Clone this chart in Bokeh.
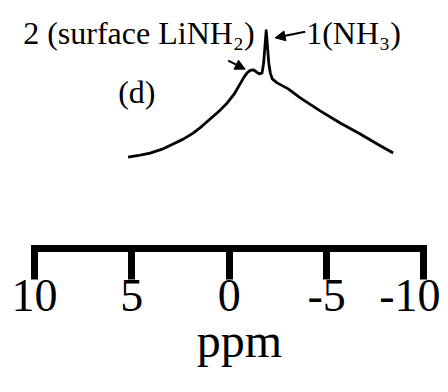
from bokeh.plotting import figure
from bokeh.models import Range1d, FixedTicker, Label, Arrow, NormalHead
from bokeh.embed import file_html
from bokeh.resources import INLINE

# Spectrum (d): chemical shift (ppm) and relative intensity
ppm = [5.19, 4.57, 4.06, 3.44, 2.88, 2.36, 1.85, 1.39, 0.98, 0.51, 0.10, -0.26,
       -0.56, -0.77, -0.92, -1.08, -1.23, -1.39, -1.54, -1.69, -1.77, -1.85,
       -1.90, -1.95, -2.03, -2.11, -2.21, -2.46, -3.03, -3.65, -4.67, -5.70,
       -6.73, -7.60, -8.42]
intensity = [0.031, 0.046, 0.062, 0.092, 0.131, 0.169, 0.215, 0.269, 0.323,
             0.385, 0.446, 0.515, 0.592, 0.646, 0.677, 0.696, 0.700, 0.685,
             0.669, 0.677, 0.754, 0.908, 1.000, 0.908, 0.754, 0.677, 0.631,
             0.600, 0.554, 0.485, 0.385, 0.292, 0.208, 0.131, 0.062]

tick_values = [10, 5, 0, -5, -10]
tick_labels = ["10", "5", "0", "-5", "-10"]

axis_title = "\u2002\u200appm"
panel_label = "(d)"
peak2_label = "2 (surface LiNH\u2082)"
peak1_label = "1(NH\u2083)"

SERIF = "Liberation Serif"

p = figure(width=440, height=388, output_backend="svg", toolbar_location=None,
           x_range=Range1d(11.23, -10.85), y_range=Range1d(-0.669, 1.231),
           y_axis_location=None, min_border_left=10, min_border_right=0,
           min_border_top=0, min_border_bottom=140)
p.outline_line_color = None
p.xgrid.visible = False
p.ygrid.visible = False
p.background_fill_color = "white"
p.border_fill_color = "white"

p.line(ppm, intensity, line_color="black", line_width=2.8, line_join="round")

ax = p.xaxis[0]
ax.bounds = (-10, 10)
ax.ticker = FixedTicker(ticks=tick_values, minor_ticks=[])
ax.major_label_overrides = {v: s for v, s in zip(tick_values, tick_labels)}
ax.axis_line_width = 7
ax.axis_line_color = "black"
ax.axis_line_cap = "square"
ax.major_tick_line_width = 7
ax.major_tick_line_color = "black"
ax.major_tick_in = 0
ax.major_tick_out = 31
ax.minor_tick_line_color = None
ax.major_label_text_font = SERIF
ax.major_label_text_font_size = "46px"
ax.major_label_text_color = "black"
ax.major_label_standoff = 0
ax.axis_label = axis_title
ax.axis_label_text_font = SERIF
ax.axis_label_text_font_size = "48px"
ax.axis_label_text_font_style = "normal"
ax.axis_label_text_color = "black"
ax.axis_label_standoff = 0

for txt, x, y in [(peak2_label, 10.58, 0.979), (peak1_label, -3.95, 0.979),
                  (panel_label, 5.70, 0.533)]:
    p.add_layout(Label(x=x, y=y, text=txt, text_font=SERIF,
                       text_font_size="32px", text_color="black",
                       text_align="left", text_baseline="alphabetic"))

for xs, ys, xe, ye in [(-3.90, 0.992, -2.36, 0.945), (0.05, 0.770, -0.82, 0.705)]:
    p.add_layout(Arrow(end=NormalHead(size=10, fill_color="black", line_color="black"),
                       x_start=xs, y_start=ys, x_end=xe, y_end=ye,
                       line_width=2, line_color="black"))

open("out.html", "w").write(file_html(p, INLINE))
